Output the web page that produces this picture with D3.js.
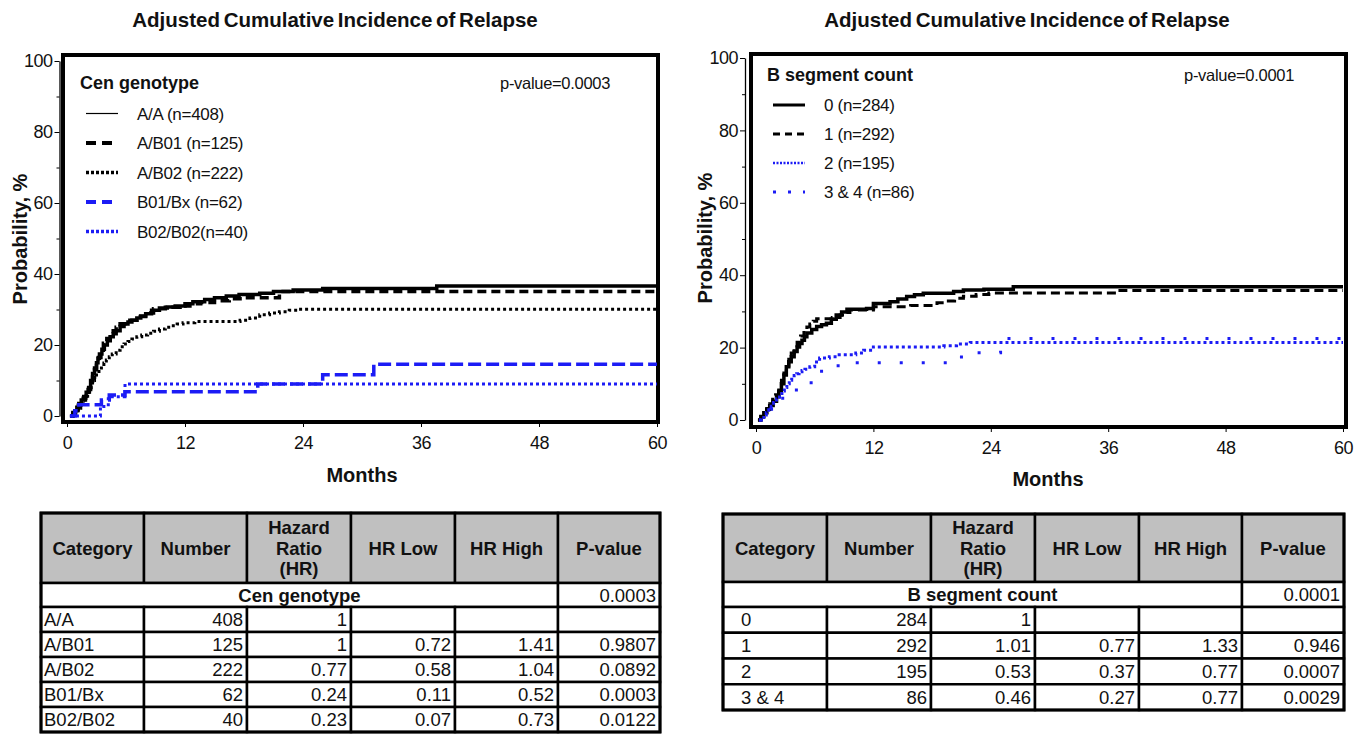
<!DOCTYPE html>
<html>
<head>
<meta charset="utf-8">
<title>Adjusted Cumulative Incidence of Relapse</title>
<script src="https://cdn.jsdelivr.net/npm/d3@7"></script>
<style>
  body { margin: 0; background: #fff; }
  text { font-family: "Liberation Sans", Arial, sans-serif; fill: #111; }
</style>
</head>
<body>
<svg id="chart" width="1368" height="739"></svg>
<script>
// ---- data ----
var xTicks = [0, 12, 24, 36, 48, 60];
var yTicks = [0, 20, 40, 60, 80, 100];
var yMinor = [10, 30, 50, 70, 90];

// Cen genotype curves: [month, probability %]
var cenAA = [[0.3,0],[0.6,0.8],[0.8,1.5],[1,2.5],[1.2,3.5],[1.45,4.5],[1.7,5.5],[1.95,6.7],[2.2,8],[2.4,10],[2.6,12],[2.8,13.5],[3,15],[3.15,16.3],[3.3,17.5],[3.55,18.8],[3.8,20],[4.1,21.2],[4.4,22.3],[4.7,23.2],[5,24],[5.4,25.2],[5.8,25.9],[6.2,26.5],[6.6,27],[7.1,27.6],[7.5,28.2],[8,28.8],[8.6,29.8],[9.4,30.4],[10.2,30.7],[11,31],[12,31.6],[12.8,32.2],[14,32.8],[15,33.3],[16.2,33.8],[17.5,34.2],[19.6,34.6],[21,35.1],[23,35.5],[26,35.9],[37.6,36.6],[60,36.6]];
var cenAB01 = [[0.3,0],[0.6,1],[0.9,2],[1.15,3],[1.4,4],[1.65,5],[1.9,6],[2.15,7.5],[2.4,9],[2.6,11],[2.8,13],[3,14.8],[3.2,16.5],[3.45,18.5],[3.7,20.5],[4.05,21.8],[4.4,23],[4.7,24],[5,25],[5.4,26],[6.2,27],[7.1,28],[8,29],[8.8,30.2],[10,30.6],[11.5,31],[12.5,31.6],[13.6,32],[15,32.5],[16.5,33],[18,33.3],[21.6,35.1],[60,35.1]];
var cenAB02 = [[0.3,0],[0.6,0.7],[0.9,1.5],[1.15,2.2],[1.4,3],[1.65,4],[1.9,5],[2.1,6.2],[2.3,7.5],[2.45,8.8],[2.6,10],[2.8,11],[3,12],[3.25,13],[3.5,14],[3.75,14.9],[4,15.8],[4.3,16.7],[4.6,17.5],[5,18.5],[5.4,19.5],[5.8,20.3],[6.2,21],[6.6,21.7],[7.1,22.3],[7.6,22.8],[8.2,23.3],[8.8,23.9],[9.4,24.5],[10,25],[10.6,25.4],[11.2,25.9],[11.8,26.3],[13,26.6],[17.6,27],[18.6,27.6],[19.6,28.5],[20.6,29],[21.6,29.4],[22.6,29.8],[23.6,30.1],[60,30.1]];
var cenB01Bx = [[0.3,0],[0.8,1.5],[1.2,3.2],[3.5,4.5],[4.3,5.9],[5.9,6.8],[19.4,9],[26,11.6],[31.2,14.6],[60,14.6]];
var cenB02B02 = [[0.3,0],[3.4,2.7],[4.2,5.4],[5.9,9],[60,9]];
var cenNames = ["A/A (n=408)", "A/B01 (n=125)", "A/B02 (n=222)", "B01/Bx (n=62)", "B02/B02(n=40)"];

// B segment count curves
var seg0 = [[0.2,0],[0.5,1],[0.8,2],[1.1,3],[1.4,4],[1.75,5.2],[2.1,6.4],[2.35,8.2],[2.6,10],[2.85,12.4],[3.1,14.7],[3.35,16.1],[3.6,17.5],[3.9,18.9],[4.2,20.2],[4.45,21.1],[4.7,22],[4.95,23],[5.2,24],[5.7,25],[6.2,25.8],[6.7,26.3],[7.2,26.7],[7.7,27.8],[8.2,29],[8.75,29.8],[9.3,30.6],[11.3,30.8],[12,32.2],[13.7,32.7],[14.5,33.4],[15.4,34.1],[16.2,34.6],[17.1,35],[20.2,35.5],[21.2,35.9],[23.3,36.1],[26.3,36.8],[60,36.8]];
var seg1 = [[0.2,0],[0.5,1],[0.8,2],[1.1,3.2],[1.4,4.5],[1.7,5.7],[2,7],[2.3,9],[2.6,11],[2.85,13],[3.1,15],[3.35,16.8],[3.6,18.5],[3.9,20],[4.2,21.5],[4.55,23.2],[4.9,24.9],[5.2,25.7],[5.5,26.5],[5.85,27.3],[6.2,28],[7.8,28.3],[8.6,29],[9.1,29.7],[9.6,30.4],[12,31.3],[15.8,31.6],[18.5,32.4],[19.5,32.9],[20.3,33.6],[21.2,34.2],[22.5,34.7],[23.8,35.1],[37.2,35.8],[60,35.8]];
var seg2 = [[0.3,0],[0.55,0.7],[0.8,1.4],[1.05,2.1],[1.3,2.8],[1.55,3.8],[1.8,4.8],[2.1,5.9],[2.4,6.9],[2.65,8],[2.9,9],[3.15,10],[3.4,11],[3.65,11.7],[3.9,12.3],[4.15,12.8],[4.4,13.3],[4.7,13.7],[5,14],[5.5,14.7],[6,16],[6.5,17.1],[7.5,17.5],[8.5,18],[10.2,18.5],[11,19.3],[12,20.2],[19.2,20.5],[20.5,21],[21.9,21.4],[60,21.4]];
var seg34 = [[0.3,0],[1.5,3],[2.5,6],[3.6,8.3],[5.1,10.3],[6.1,13.5],[7,15],[9.8,15.8],[20.3,17.4],[21.9,18.6],[25,22.5],[60,22.5]];
var segNames = ["0 (n=284)", "1 (n=292)", "2 (n=195)", "3 & 4 (n=86)"];

// tables
var tableHead = [["Category"], ["Number"], ["Hazard", "Ratio", "(HR)"], ["HR Low"], ["HR High"], ["P-value"]];
var cenRows = [
  ["A/A", "408", "1", "", "", ""],
  ["A/B01", "125", "1", "0.72", "1.41", "0.9807"],
  ["A/B02", "222", "0.77", "0.58", "1.04", "0.0892"],
  ["B01/Bx", "62", "0.24", "0.11", "0.52", "0.0003"],
  ["B02/B02", "40", "0.23", "0.07", "0.73", "0.0122"]
];
var segRows = [
  ["0", "284", "1", "", "", ""],
  ["1", "292", "1.01", "0.77", "1.33", "0.946"],
  ["2", "195", "0.53", "0.37", "0.77", "0.0007"],
  ["3 & 4", "86", "0.46", "0.27", "0.77", "0.0029"]
];

// ---- drawing ----
var svg = d3.select("#chart");
var BLUE = "#1c1cf5";

function panel(cfg) {
  var g = svg.append("g");
  var x = d3.scaleLinear().domain([0, 60]).range(cfg.xr);
  var y = d3.scaleLinear().domain([0, 100]).range(cfg.yr);

  g.append("text").attr("x", cfg.cx).attr("y", 27)
    .attr("text-anchor", "middle").style("font-size", "20.5px").style("font-weight", "bold")
    .style("word-spacing", "-2px")
    .text("Adjusted Cumulative Incidence of Relapse");

  // frame
  g.append("rect").attr("x", cfg.frame[0]).attr("y", cfg.frame[1])
    .attr("width", cfg.frame[2] - cfg.frame[0]).attr("height", cfg.frame[3] - cfg.frame[1])
    .attr("fill", "none").attr("stroke", "#000").attr("stroke-width", 4);

  // y axis (separate line left of the frame)
  var ya = g.append("g").attr("transform", "translate(" + cfg.yAxisX + ",0)")
    .call(d3.axisLeft(y).tickValues(yTicks).tickSize(5).tickSizeOuter(0).tickPadding(2));
  ya.select(".domain").attr("stroke-width", 1.3);
  ya.selectAll("text").style("font-size", "18px").style("font-family", "Liberation Sans, Arial, sans-serif")
    .style("letter-spacing", "-0.5px").attr("fill", "#111");
  g.append("g").attr("transform", "translate(" + cfg.yAxisX + ",0)")
    .call(d3.axisLeft(y).tickValues(yMinor).tickSize(3).tickFormat(""))
    .select(".domain").remove();

  // x axis under the frame
  var xa = g.append("g").attr("transform", "translate(0," + cfg.frame[3] + ")")
    .call(d3.axisBottom(x).tickValues(xTicks).tickSize(5).tickPadding(9));
  xa.select(".domain").remove();
  xa.selectAll("text").style("font-size", "18px").style("font-family", "Liberation Sans, Arial, sans-serif")
    .style("letter-spacing", "-0.5px").attr("fill", "#111");

  g.append("text").attr("transform", "translate(" + cfg.ylabX + "," + cfg.ylabY + ") rotate(-90)")
    .attr("text-anchor", "middle").attr("dy", "0.35em")
    .style("font-size", "20px").style("font-weight", "bold").text("Probability, %");
  g.append("text").attr("x", cfg.mx).attr("y", cfg.my)
    .attr("text-anchor", "middle").style("font-size", "20px").style("font-weight", "bold").text("Months");

  var line = d3.line().x(function(d) { return x(d[0]); }).y(function(d) { return y(d[1]); })
    .curve(d3.curveStepAfter);

  cfg.series.forEach(function(s) {
    g.append("path").datum(s.data).attr("d", line)
      .attr("fill", "none").attr("stroke", s.color).attr("stroke-width", s.width)
      .attr("stroke-dasharray", s.dash || null);
  });

  // legend
  g.append("text").attr("x", cfg.lx).attr("y", cfg.ly)
    .style("font-size", "18px").style("font-weight", "bold").text(cfg.ltitle);
  g.append("text").attr("x", cfg.px).attr("y", cfg.ly)
    .style("font-size", "16.5px").style("letter-spacing", "-0.3px").text(cfg.pvalue);
  cfg.series.forEach(function(s, i) {
    var ry = cfg.ly + cfg.lgap * (i + 1) - 5;
    g.append("line").attr("x1", cfg.lx + 6).attr("x2", cfg.lx + 38).attr("y1", ry).attr("y2", ry)
      .attr("stroke", s.color).attr("stroke-width", s.lw).attr("stroke-dasharray", s.ldash || null);
    g.append("text").attr("x", cfg.lx + 57).attr("y", ry + 6)
      .style("font-size", "17px").style("letter-spacing", "-0.3px").text(cfg.names[i]);
  });
}

panel({
  xr: [67, 657], yr: [416, 61], frame: [63, 55, 658, 422], yAxisX: 59.5, cx: 335,
  ylabX: 20, ylabY: 239, mx: 362, my: 482,
  lx: 80, ly: 89, lgap: 29.5, px: 500, ltitle: "Cen genotype", pvalue: "p-value=0.0003",
  names: cenNames,
  series: [
    { data: cenAA, color: "#000", width: 3.5, lw: 1.2 },
    { data: cenAB01, color: "#000", width: 3.5, dash: "9,5", lw: 4, ldash: "10,6" },
    { data: cenAB02, color: "#000", width: 3, dash: "3,3", lw: 3.5, ldash: "3,2" },
    { data: cenB01Bx, color: BLUE, width: 3.5, dash: "13,5", lw: 4, ldash: "10,6" },
    { data: cenB02B02, color: BLUE, width: 3, dash: "3,3", lw: 3.5, ldash: "3,2" }
  ]
});

panel({
  xr: [756, 1343], yr: [420, 58], frame: [751, 54, 1346, 427], yAxisX: 745, cx: 1027,
  ylabX: 705, ylabY: 238, mx: 1048, my: 486,
  lx: 767, ly: 81, lgap: 29, px: 1184, ltitle: "B segment count", pvalue: "p-value=0.0001",
  names: segNames,
  series: [
    { data: seg0, color: "#000", width: 3.5, lw: 3 },
    { data: seg1, color: "#000", width: 3, dash: "9,5", lw: 3, ldash: "7,5" },
    { data: seg2, color: BLUE, width: 3, dash: "3,3", lw: 2.5, ldash: "2,1.5" },
    { data: seg34, color: BLUE, width: 3, dash: "3,19", lw: 3, ldash: "3,12" }
  ]
});

function table(cfg) {
  var g = svg.append("g");
  var e = cfg.edges;
  var left = e[0], right = e[e.length - 1];
  var headBot = cfg.top + cfg.headH, groupBot = headBot + cfg.groupH;
  var rowY = d3.scaleLinear().domain([0, cfg.rows.length]).range([groupBot, cfg.bottom]);

  // header
  tableHead.forEach(function(h, i) {
    g.append("rect").attr("x", e[i]).attr("y", cfg.top).attr("width", e[i + 1] - e[i]).attr("height", cfg.headH)
      .attr("fill", "#c0c0c0").attr("stroke", "#000").attr("stroke-width", 2.5);
    var cy = cfg.top + cfg.headH / 2;
    h.forEach(function(t, j) {
      g.append("text").attr("x", (e[i] + e[i + 1]) / 2).attr("y", cy + (j - (h.length - 1) / 2) * 20.5 + 6.5)
        .attr("text-anchor", "middle").style("font-size", "18.5px").style("font-weight", "bold").text(t);
    });
  });
  // group row
  g.append("rect").attr("x", left).attr("y", headBot).attr("width", e[5] - left).attr("height", cfg.groupH)
    .attr("fill", "#fff").attr("stroke", "#000").attr("stroke-width", 2.5);
  g.append("rect").attr("x", e[5]).attr("y", headBot).attr("width", right - e[5]).attr("height", cfg.groupH)
    .attr("fill", "#fff").attr("stroke", "#000").attr("stroke-width", 2.5);
  g.append("text").attr("x", (left + e[5]) / 2).attr("y", headBot + cfg.groupH / 2 + 6.5)
    .attr("text-anchor", "middle").style("font-size", "18.5px").style("font-weight", "bold").text(cfg.group);
  g.append("text").attr("x", right - 4).attr("y", headBot + cfg.groupH / 2 + 6.5)
    .attr("text-anchor", "end").style("font-size", "18.5px").text(cfg.pval);

  cfg.rows.forEach(function(r, ri) {
    var y0 = rowY(ri), y1 = rowY(ri + 1);
    r.forEach(function(v, ci) {
      g.append("rect").attr("x", e[ci]).attr("y", y0).attr("width", e[ci + 1] - e[ci]).attr("height", y1 - y0)
        .attr("fill", "#fff").attr("stroke", "#000").attr("stroke-width", 2.5);
      g.append("text")
        .attr("x", ci === 0 ? e[0] + cfg.indent : e[ci + 1] - 4)
        .attr("y", (y0 + y1) / 2 + 6.5)
        .attr("text-anchor", ci === 0 ? "start" : "end")
        .style("font-size", "18.5px").text(v);
    });
  });
  g.append("rect").attr("x", left).attr("y", cfg.top).attr("width", right - left).attr("height", cfg.bottom - cfg.top)
    .attr("fill", "none").attr("stroke", "#000").attr("stroke-width", 3);
}

table({ edges: [41, 144, 247, 351, 455, 558, 660], top: 513, headH: 70, groupH: 24, bottom: 732,
  group: "Cen genotype", pval: "0.0003", rows: cenRows, indent: 3 });
table({ edges: [723, 827, 931, 1035, 1139, 1242, 1344], top: 514, headH: 68, groupH: 25, bottom: 710,
  group: "B segment count", pval: "0.0001", rows: segRows, indent: 18 });
</script>
</body>
</html>
